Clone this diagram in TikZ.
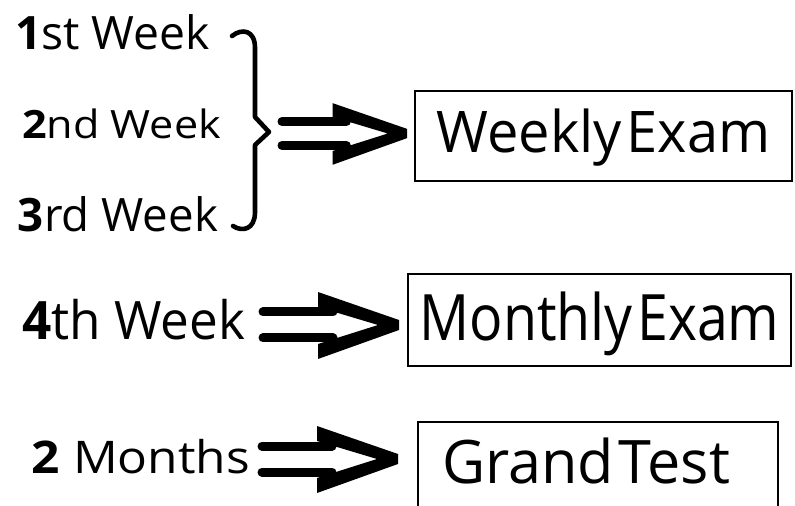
\documentclass[tikz,border=0pt]{standalone}
\usepackage{fontspec}
\setmainfont{Open Sans}
\newcommand\fitw[2]{\resizebox{#1}{\height}{#2}}
\newcommand\gap{\hspace{2.5pt}}
\tikzset{
  lbl/.style={anchor=base west,inner sep=0,outer sep=0},
  exambox/.style={draw,line width=1pt,anchor=base,inner xsep=0,inner ysep=0,align=center},
  bar/.style={line width=4.5pt,line cap=round},
  implies/.pic={
    \draw[bar] (0,-13) -- (70,-13);
    \draw[bar] (0,13) -- (70,13);
    \fill (55,-33) -- (136,-5) -- (136,5) -- (55,34) -- (55,19) -- (115,0) -- (55,-18) -- cycle;
  }
}
\begin{document}
\begin{tikzpicture}[x=0.5pt,y=-0.5pt]
\path[use as bounding box] (0,0) rectangle (795,506);
\clip (0,0) rectangle (795,506);
% week labels
\draw (15,50) node[lbl,font=\fontsize{23}{23}\selectfont] (w1) {\fitw{97.5pt}{\textbf{1}st Week}};
\draw (22,139) node[lbl,font=\fontsize{19.5}{19.5}\selectfont] (w2) {\fitw{99.5pt}{\textbf{2}nd Week}};
\draw (18,232) node[lbl,font=\fontsize{23}{23}\selectfont] (w3) {\fitw{100pt}{\textbf{3}rd Week}};
\draw (22,340) node[lbl,font=\fontsize{26.5}{26.5}\selectfont] (w4) {\fitw{111.5pt}{\textbf{4}th Week}};
\draw (32,473) node[lbl,font=\fontsize{22.5}{22.5}\selectfont] (m2) {\fitw{109pt}{\textbf{2} Months}};
% brace
\draw[line width=2.3pt,line cap=round,line join=round] (232,36) .. controls (242,28) and (255,30) .. (255,48)
  -- (255,117) -- (269,132) -- (255,145) -- (255,212) .. controls (255,230) and (242,232) .. (233,226);
% boxes
\draw (603.5,153) node[exambox,text width=188.5pt,text height=31pt,text depth=14pt,font=\fontsize{28.7}{28.7}\selectfont] (weekly) {\fitw{167pt}{Weekly\gap Exam}};
\draw (599.5,341) node[exambox,text width=191.5pt,text height=33.5pt,text depth=12.5pt,font=\fontsize{32}{32}\selectfont] (monthly) {\fitw{180pt}{Monthly\gap Exam}};
\draw (598,483) node[exambox,text width=180pt,text height=30.5pt,text depth=20pt,align=left,font=\fontsize{30}{30}\selectfont] (grand) {\hspace*{12pt}\fitw{144pt}{Grand\gap Test}};
% arrows
\pic[scale=0.92] at (282,133.5) {implies};
\pic at (263,325) {implies};
\pic at (262,459) {implies};
\end{tikzpicture}
\end{document}
